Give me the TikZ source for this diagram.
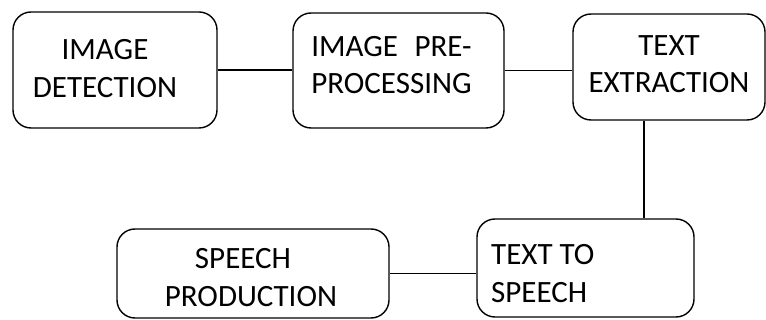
\documentclass[tikz,border=0pt]{standalone}
\usepackage{fontspec}
\usepackage{calc}
\setmainfont{Carlito}
\begin{document}
\begin{tikzpicture}[x=1pt,y=-1pt,
  box/.style={draw=black, line width=1.4pt, rounded corners=18pt, minimum width=#1, inner sep=0pt},
  lbl/.style={inner sep=0pt, font=\fontsize{31}{37.5}\selectfont, text=black},
  link/.style={draw=black, line width=1.4pt}]
\useasboundingbox (0,0) rectangle (766,320);
% boxes
\node[box=204pt, minimum height=116pt] (b1) at (115,70) {};
\node[box=211pt, minimum height=115pt] (b2) at (398.5,70.5) {};
\node[box=192pt, minimum height=106pt] (b3) at (669,67) {};
\node[box=217pt, minimum height=98pt] (b4) at (585.5,268) {};
\node[box=272pt, minimum height=89pt] (b5) at (253,273.5) {};
% texts
\node[lbl, align=center] (t1) at (105,68.5) {IMAGE\\DETECTION};
\node[lbl, align=left] (t2) at (391.5,65) {\makebox[\widthof{PROCESSING}][s]{IMAGE\hfill PRE-}\\PROCESSING};
\node[lbl, align=center] (t3) at (669,64) {TEXT\\EXTRACTION};
\node[lbl, align=left, anchor=west] (t4) at (491,273.5) {TEXT TO\\SPEECH};
\node[lbl, align=center] (t5) at (251,277.5) {SPEECH\hspace*{16pt}\\PRODUCTION};
% connectors
\coordinate (v) at (644,0);
\draw[link] (b1.east) -- (b1.east -| b2.west);
\draw[link] (b2.east) -- (b2.east -| b3.west);
\draw[link] (b3.south -| v) -- (b4.north -| v);
\draw[link] (b5.east) -- (b5.east -| b4.west);
\end{tikzpicture}
\end{document}
